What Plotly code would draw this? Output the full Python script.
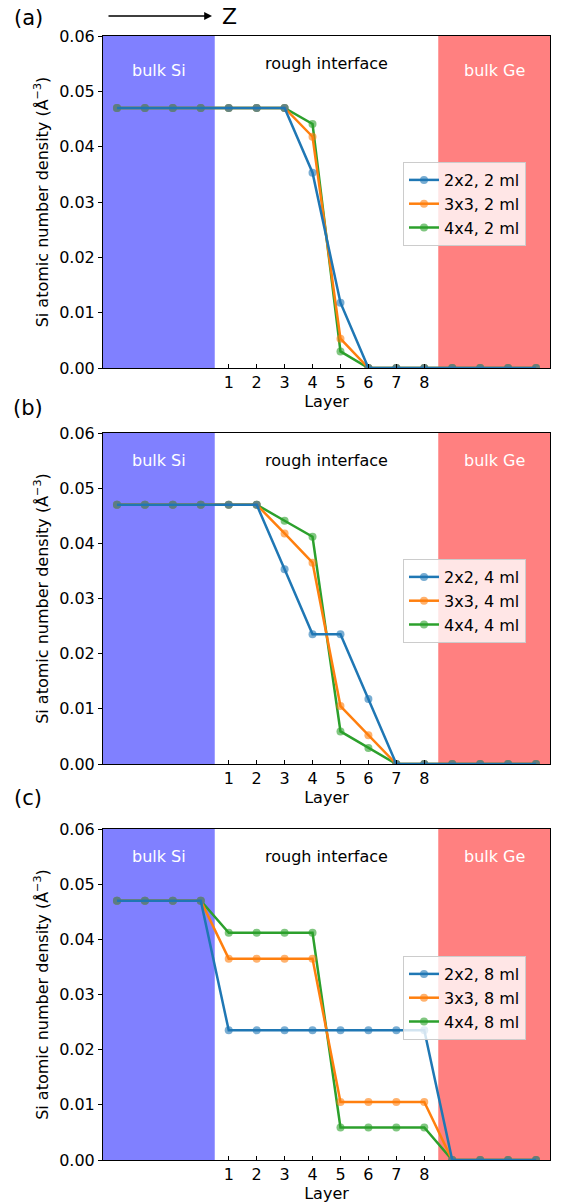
import plotly.graph_objects as go

W, H = 561, 1203

# ---- data ----
x_positions = [-3, -2, -1, 0, 1, 2, 3, 4, 5, 6, 7, 8, 9, 10, 11, 12]
layer_ticks = [1, 2, 3, 4, 5, 6, 7, 8]
series_names = ["2x2", "3x3", "4x4"]
ml_labels = ["2 ml", "4 ml", "8 ml"]

a_2x2 = [0.047, 0.047, 0.047, 0.047, 0.047, 0.047, 0.047, 0.0353, 0.0118, 0, 0, 0, 0, 0, 0, 0]
a_3x3 = [0.047, 0.047, 0.047, 0.047, 0.047, 0.047, 0.047, 0.0418, 0.0053, 0, 0, 0, 0, 0, 0, 0]
a_4x4 = [0.047, 0.047, 0.047, 0.047, 0.047, 0.047, 0.047, 0.0441, 0.0030, 0, 0, 0, 0, 0, 0, 0]

b_2x2 = [0.047, 0.047, 0.047, 0.047, 0.047, 0.047, 0.0353, 0.0235, 0.0235, 0.0118, 0, 0, 0, 0, 0, 0]
b_3x3 = [0.047, 0.047, 0.047, 0.047, 0.047, 0.047, 0.0418, 0.0365, 0.0105, 0.0052, 0, 0, 0, 0, 0, 0]
b_4x4 = [0.047, 0.047, 0.047, 0.047, 0.047, 0.047, 0.0441, 0.0412, 0.0059, 0.0029, 0, 0, 0, 0, 0, 0]

c_2x2 = [0.047, 0.047, 0.047, 0.047, 0.0235, 0.0235, 0.0235, 0.0235, 0.0235, 0.0235, 0.0235, 0.0235, 0, 0, 0, 0]
c_3x3 = [0.047, 0.047, 0.047, 0.047, 0.0365, 0.0365, 0.0365, 0.0365, 0.0105, 0.0105, 0.0105, 0.0105, 0, 0, 0, 0]
c_4x4 = [0.047, 0.047, 0.047, 0.047, 0.0412, 0.0412, 0.0412, 0.0412, 0.0059, 0.0059, 0.0059, 0.0059, 0, 0, 0, 0]

panels = [("(a)", [a_2x2, a_3x3, a_4x4]),
          ("(b)", [b_2x2, b_3x3, b_4x4]),
          ("(c)", [c_2x2, c_3x3, c_4x4])]

colors = ["#1f77b4", "#ff7f0e", "#2ca02c"]
marker_colors = ["rgba(31,119,180,0.6)", "rgba(255,127,14,0.6)", "rgba(44,160,44,0.6)"]

FONT = "DejaVu Sans"

# ---- layout geometry (pixels) ----
x_left, x_right = 103, 550
panel_px = [(36, 368), (433, 764), (829, 1160)]
legend_tops = [162, 559, 956]
label_y = [18, 408, 798]

def px_x(x):
    return x / W

def px_y(y):
    return 1 - y / H

fig = go.Figure()
layout = dict(
    width=W, height=H,
    margin=dict(l=0, r=0, t=0, b=0),
    paper_bgcolor="white", plot_bgcolor="white",
    font=dict(family=FONT, size=16, color="black"),
    showlegend=True,
)
shapes = []
annotations = []

for i, (plabel, series) in enumerate(panels):
    n = "" if i == 0 else str(i + 1)
    xa = "x" + n
    ya = "y" + n
    leg = "legend" + n
    for j in [2, 1, 0]:
        fig.add_trace(go.Scatter(
            x=x_positions, y=series[j], xaxis=xa, yaxis=ya,
            mode="lines+markers",
            name=f"{series_names[j]}, {ml_labels[i]}",
            line=dict(color=colors[j], width=2.5),
            marker=dict(color=marker_colors[j], size=8, line=dict(width=0)),
            legend=leg, legendrank=j + 1,
        ))
    top, bot = panel_px[i]
    layout["xaxis" + n] = dict(
        domain=[px_x(x_left), px_x(x_right)],
        anchor=ya, range=[-3.5, 12.5], automargin=False,
        tickvals=layer_ticks, ticktext=[str(v) for v in layer_ticks],
        ticks="inside", ticklen=4, tickcolor="black",
        showline=True, linecolor="black", linewidth=1, mirror=True,
        showgrid=False, zeroline=False,
        tickfont=dict(size=16, family=FONT),
        title=dict(text="Layer", font=dict(size=16, family=FONT), standoff=4),
    )
    layout["yaxis" + n] = dict(
        domain=[px_y(bot), px_y(top)],
        anchor=xa, range=[0, 0.06], automargin=False,
        tickvals=[0, 0.01, 0.02, 0.03, 0.04, 0.05, 0.06],
        tickformat=".2f",
        ticks="outside", ticklen=4, tickcolor="black",
        showline=True, linecolor="black", linewidth=1, mirror=True,
        showgrid=False, zeroline=False,
        tickfont=dict(size=16, family=FONT),
        title=dict(text="Si atomic number density (Å<sup>−3</sup>)",
                   font=dict(size=16, family=FONT), standoff=6),
    )
    layout[leg] = dict(
        x=px_x(403), y=px_y(legend_tops[i]), xanchor="left", yanchor="top",
        bgcolor="rgba(255,255,255,0.8)", bordercolor="#cccccc", borderwidth=1,
        font=dict(size=16, family=FONT, color="black"),
        traceorder="normal",
    )
    shapes.append(dict(type="rect", xref=xa, yref=ya, x0=-3.5, x1=0.5, y0=0, y1=0.06,
                       fillcolor="#8080ff", line=dict(width=0), layer="below"))
    shapes.append(dict(type="rect", xref=xa, yref=ya, x0=8.5, x1=12.5, y0=0, y1=0.06,
                       fillcolor="#ff8080", line=dict(width=0), layer="below"))
    ty_bulk = 0.0538 if i == 0 else 0.0551
    annotations.append(dict(x=-1.5, y=ty_bulk, xref=xa, yref=ya, text="bulk Si", showarrow=False,
                            yanchor="middle", font=dict(size=16, family=FONT, color="white")))
    annotations.append(dict(x=10.5, y=ty_bulk, xref=xa, yref=ya, text="bulk Ge", showarrow=False,
                            yanchor="middle", font=dict(size=16, family=FONT, color="white")))
    annotations.append(dict(x=4.5, y=0.0551, xref=xa, yref=ya, text="rough interface", showarrow=False,
                            yanchor="middle", font=dict(size=16, family=FONT, color="black")))
    annotations.append(dict(x=px_x(28), y=px_y(label_y[i]), xref="paper", yref="paper",
                            text=plabel, showarrow=False, xanchor="center", yanchor="middle",
                            font=dict(size=21, family=FONT, color="black")))

# Z arrow
annotations.append(dict(x=px_x(212), y=px_y(16), xref="paper", yref="paper",
                        ax=-105, ay=0, axref="pixel", ayref="pixel",
                        text="", showarrow=True, arrowhead=2, arrowsize=1.2,
                        arrowwidth=1.3, arrowcolor="black"))
annotations.append(dict(x=px_x(229), y=px_y(16), xref="paper", yref="paper",
                        text="Z", showarrow=False, xanchor="center", yanchor="middle",
                        font=dict(size=22, family=FONT, color="black")))

layout["shapes"] = shapes
layout["annotations"] = annotations
fig.update_layout(**layout)
fig.write_html("out.html")
